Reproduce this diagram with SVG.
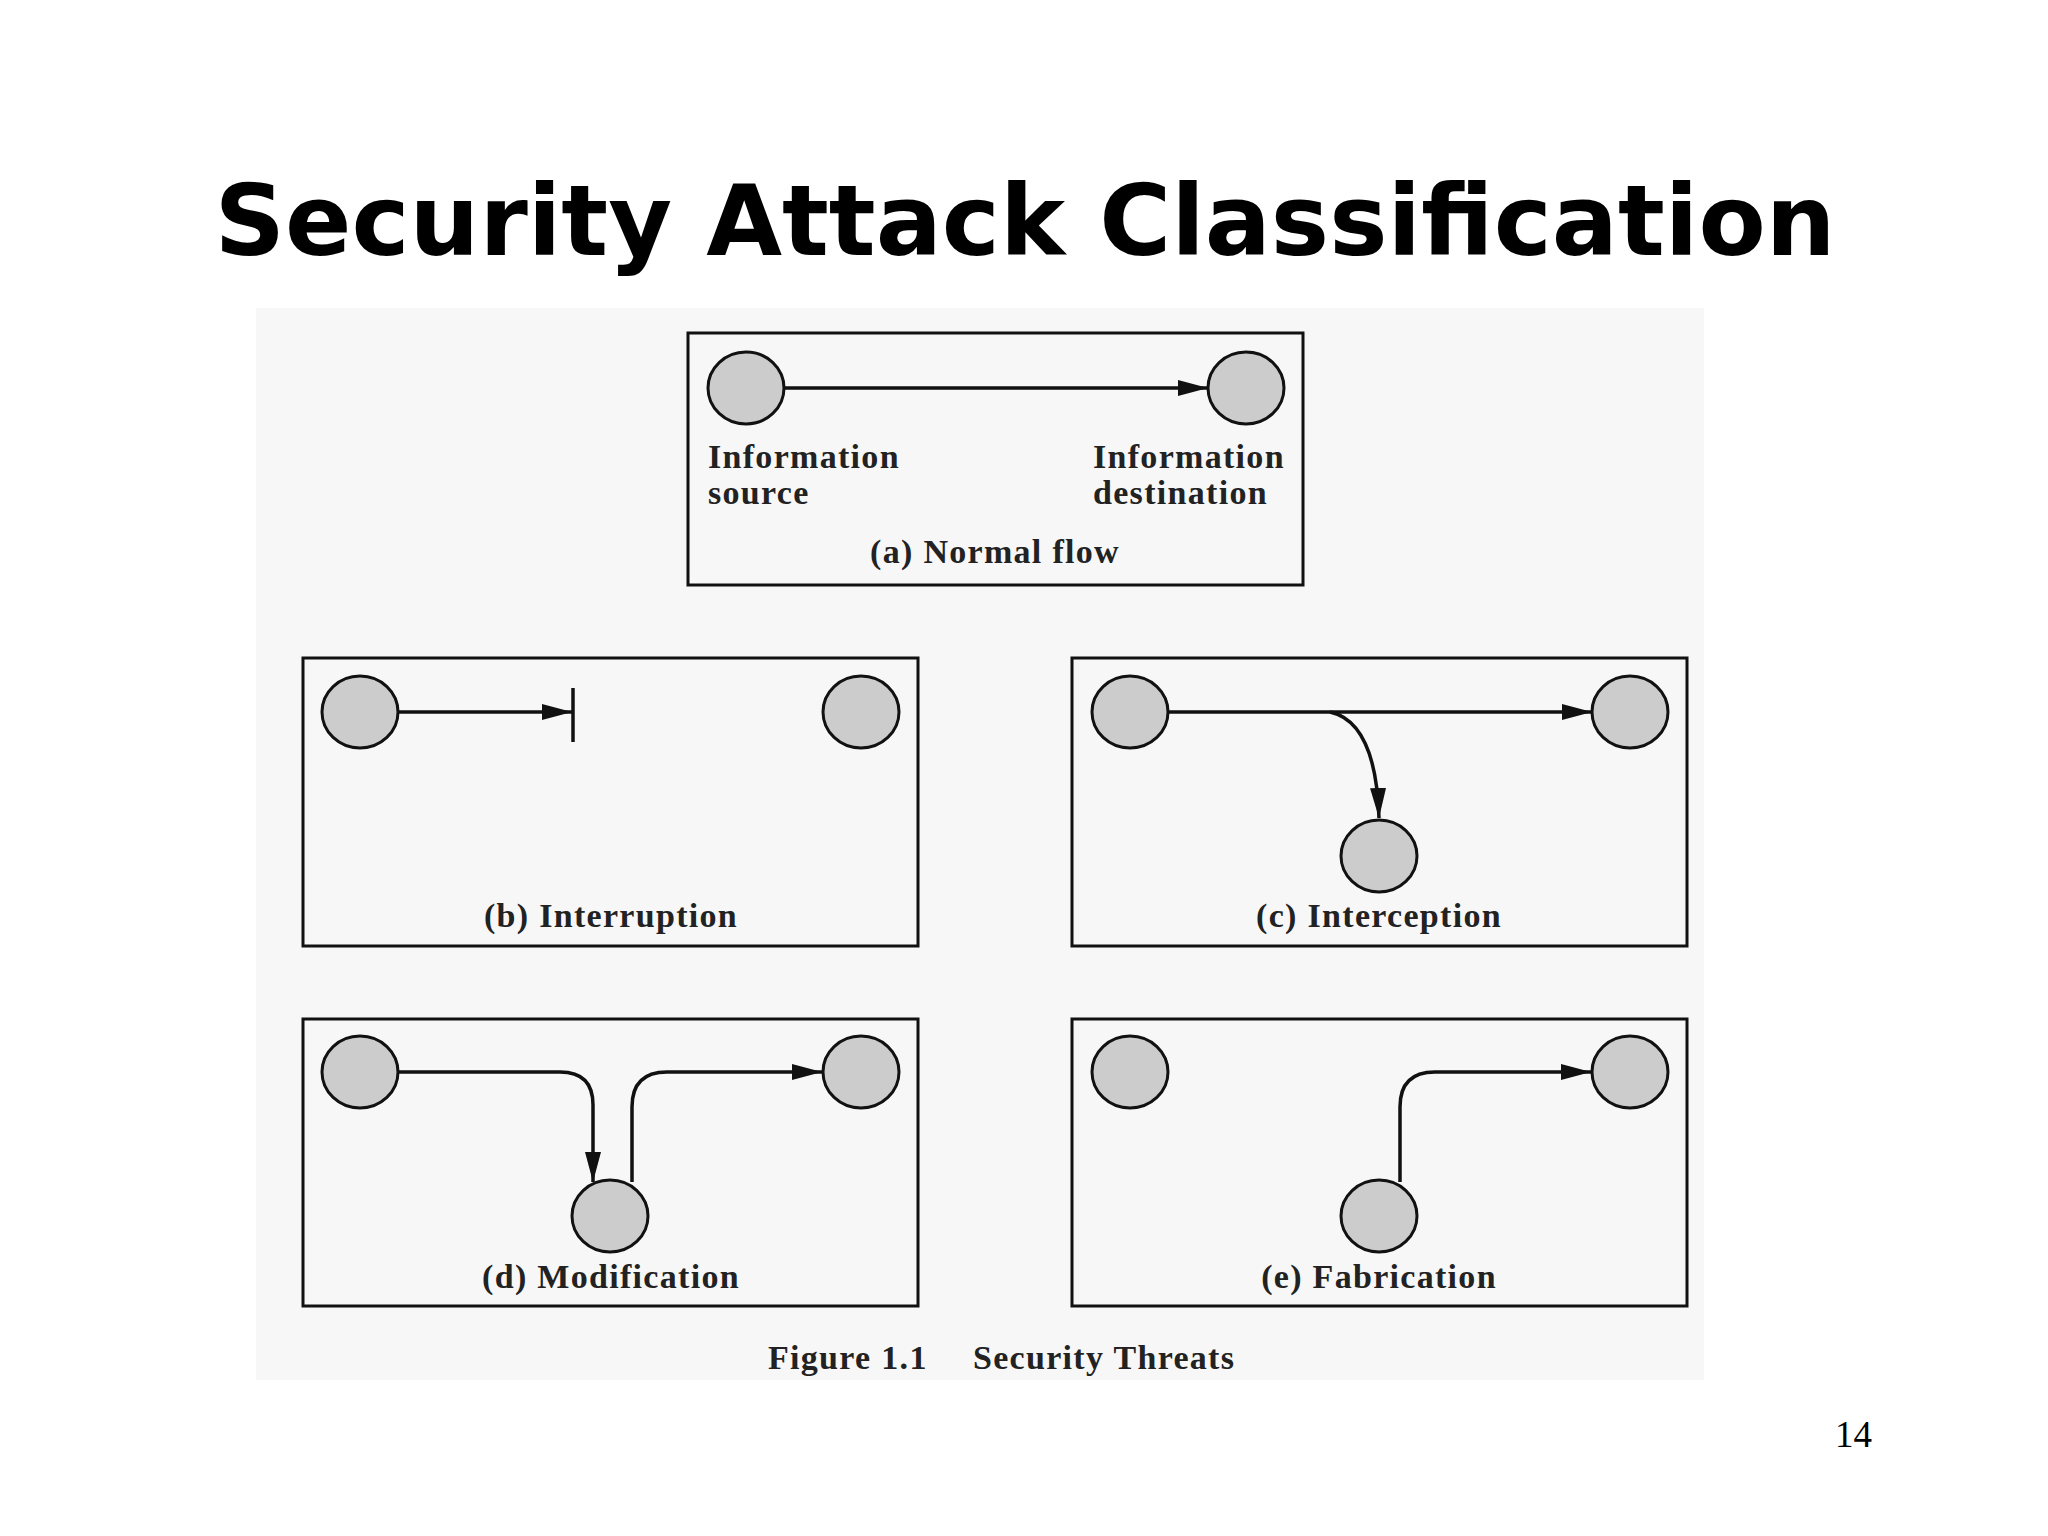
<svg xmlns="http://www.w3.org/2000/svg" width="2048" height="1536" viewBox="0 0 2048 1536">
<style>
.box{fill:none;stroke:#111;stroke-width:3}
.n{fill:#cccccc;stroke:#111;stroke-width:3}
.c{fill:none;stroke:#111;stroke-width:3.5}
.t{font-family:"Liberation Serif",serif;font-weight:bold;font-size:34px;letter-spacing:1.3px;fill:#222}
</style>
<defs>
<marker id="ar" viewBox="0 0 30 20" refX="30" refY="10" markerWidth="30" markerHeight="20" orient="auto" markerUnits="userSpaceOnUse"><path d="M0,2 L30,10 L0,18 z" fill="#111"/></marker></defs>
<rect width="2048" height="1536" fill="#fff"/>
<text x="1025" y="255" text-anchor="middle" font-family="DejaVu Sans,sans-serif" font-weight="bold" font-size="98" fill="#000">Security Attack Classification</text>
<rect x="256" y="308" width="1448" height="1072" fill="#f7f7f7"/>
<g id="connectors">
<line class="c" x1="784" y1="388" x2="1208" y2="388" marker-end="url(#ar)"/>
<line class="c" x1="398" y1="712" x2="572" y2="712" marker-end="url(#ar)"/>
<line class="c" x1="573" y1="688" x2="573" y2="742"/>
<line class="c" x1="1168" y1="712" x2="1592" y2="712" marker-end="url(#ar)"/>
<path class="c" d="M1330,712 Q1376,722 1379,818" marker-end="url(#ar)"/>
<path class="c" d="M398,1072 H560 Q593,1072 593,1105 V1182" marker-end="url(#ar)"/>
<path class="c" d="M632,1182 V1107 Q632,1072 667,1072 H822" marker-end="url(#ar)"/>
<path class="c" d="M1400,1182 V1107 Q1400,1072 1435,1072 H1591" marker-end="url(#ar)"/>
</g>
<g id="a"><rect class="box" x="688" y="333" width="615" height="252"/>
<ellipse class="n" cx="746" cy="388" rx="38" ry="36"/><ellipse class="n" cx="1246" cy="388" rx="38" ry="36"/>
<text class="t" x="708" y="468">Information</text><text class="t" x="708" y="504">source</text>
<text class="t" x="1093" y="468">Information</text><text class="t" x="1093" y="504">destination</text>
<text class="t" x="995" y="563" text-anchor="middle">(a) Normal flow</text></g>
<g id="b"><rect class="box" x="303" y="658" width="615" height="288"/>
<ellipse class="n" cx="360" cy="712" rx="38" ry="36"/><ellipse class="n" cx="861" cy="712" rx="38" ry="36"/>
<text class="t" x="611" y="927" text-anchor="middle">(b) Interruption</text></g>
<g id="c"><rect class="box" x="1072" y="658" width="615" height="288"/>
<ellipse class="n" cx="1130" cy="712" rx="38" ry="36"/><ellipse class="n" cx="1630" cy="712" rx="38" ry="36"/><ellipse class="n" cx="1379" cy="856" rx="38" ry="36"/>
<text class="t" x="1379" y="927" text-anchor="middle">(c) Interception</text></g>
<g id="d"><rect class="box" x="303" y="1019" width="615" height="287"/>
<ellipse class="n" cx="360" cy="1072" rx="38" ry="36"/><ellipse class="n" cx="861" cy="1072" rx="38" ry="36"/><ellipse class="n" cx="610" cy="1216" rx="38" ry="36"/>
<text class="t" x="611" y="1288" text-anchor="middle">(d) Modification</text></g>
<g id="e"><rect class="box" x="1072" y="1019" width="615" height="287"/>
<ellipse class="n" cx="1130" cy="1072" rx="38" ry="36"/><ellipse class="n" cx="1630" cy="1072" rx="38" ry="36"/><ellipse class="n" cx="1379" cy="1216" rx="38" ry="36"/>
<text class="t" x="1379" y="1288" text-anchor="middle">(e) Fabrication</text></g>
<text class="t" x="768" y="1369">Figure 1.1</text><text class="t" x="973" y="1369">Security Threats</text>
<text x="1872" y="1447" text-anchor="end" font-family="Liberation Serif,serif" font-size="37" fill="#000">14</text>
</svg>
